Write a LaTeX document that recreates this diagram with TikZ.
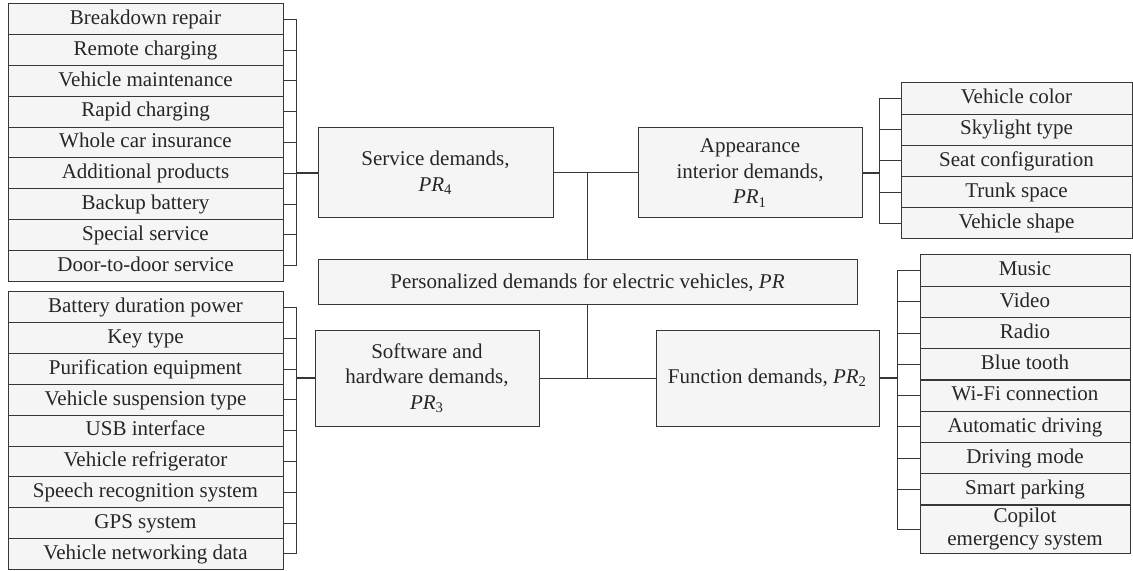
\documentclass[tikz,border=0pt]{standalone}
\usepackage{fontspec}
\setmainfont{Liberation Serif}
\definecolor{boxgray}{RGB}{245,245,245}
\definecolor{linegray}{RGB}{55,55,55}
\newcommand{\prsub}[1]{\textit{PR}\textsubscript{#1}}
\usepackage{tikz}
\usetikzlibrary{
  positioning,
  calc
}

\begin{document}
\begin{tikzpicture}[
  x=0.5pt, y=-0.5pt,
  cell/.style={
    draw=linegray, line width=0.5pt,
    fill=boxgray,
    inner sep=0pt, align=center,
    font=\fontsize{10.5}{11.5}\selectfont, text=black!85
  },
  row/.style={cell, text height=7.6pt, text depth=2.4pt},
  leftitem/.style={row, minimum width=137.5pt, minimum height=15.4pt},
  apitem/.style={row, minimum width=115.5pt, minimum height=15.6pt},
  fnitem/.style={row, minimum width=105pt, minimum height=15.6pt},
  demand/.style={
    cell, font=\fontsize{10.5}{12.8}\selectfont
  },
  link/.style={draw=linegray, line width=0.5pt},
  trunk/.style={draw=linegray, line width=0.9pt}
]
\useasboundingbox (0,0) rectangle (1133,571);

% central boxes
\node[demand, minimum width=117.5pt, minimum height=45pt] (svc) at (435.5,173) {Service demands,\\ \prsub{4}};
\node[demand, minimum width=112pt, minimum height=45pt] (app) at (750,173) {Appearance\\ interior demands,\\ \prsub{1}};
\node[demand, minimum width=269.5pt, minimum height=22.5pt] (pr) at (587.5,282.5) {Personalized demands for electric vehicles, \textit{PR}};
\node[demand, minimum width=112pt, minimum height=48pt] (sw) at (427,378) {Software and\\ hardware demands,\\ \prsub{3}};
\node[demand, minimum width=111.5pt, minimum height=48pt] (fn) at (767.5,378) {Function demands, \prsub{2}};

% service demands
\node[leftitem] (s1) at (145.5,19.4) {Breakdown repair};
\node[leftitem] (s2) at (145.5,50.2) {Remote charging};
\node[leftitem] (s3) at (145.5,81.0) {Vehicle maintenance};
\node[leftitem] (s4) at (145.5,111.8) {Rapid charging};
\node[leftitem] (s5) at (145.5,142.6) {Whole car insurance};
\node[leftitem] (s6) at (145.5,173.4) {Additional products};
\node[leftitem] (s7) at (145.5,204.2) {Backup battery};
\node[leftitem] (s8) at (145.5,235.0) {Special service};
\node[leftitem] (s9) at (145.5,265.8) {Door-to-door service};

% software and hardware demands
\node[leftitem] (h1) at (145.5,307.4) {Battery duration power};
\node[leftitem] (h2) at (145.5,338.2) {Key type};
\node[leftitem] (h3) at (145.5,369.0) {Purification equipment};
\node[leftitem] (h4) at (145.5,399.8) {Vehicle suspension type};
\node[leftitem] (h5) at (145.5,430.6) {USB interface};
\node[leftitem] (h6) at (145.5,461.4) {Vehicle refrigerator};
\node[leftitem] (h7) at (145.5,492.2) {Speech recognition system};
\node[leftitem] (h8) at (145.5,523.0) {GPS system};
\node[leftitem] (h9) at (145.5,553.8) {Vehicle networking data};

% appearance interior demands
\node[apitem] (a1) at (1016.5,98.6) {Vehicle color};
\node[apitem] (a2) at (1016.5,129.8) {Skylight type};
\node[apitem] (a3) at (1016.5,161.0) {Seat configuration};
\node[apitem] (a4) at (1016.5,192.2) {Trunk space};
\node[apitem] (a5) at (1016.5,223.4) {Vehicle shape};

% function demands
\node[fnitem] (f1) at (1025,270.6) {Music};
\node[fnitem] (f2) at (1025,301.85) {Video};
\node[fnitem] (f3) at (1025,333.1) {Radio};
\node[fnitem] (f4) at (1025,364.35) {Blue tooth};
\node[fnitem] (f5) at (1025,395.6) {Wi-Fi connection};
\node[fnitem] (f6) at (1025,426.85) {Automatic driving};
\node[fnitem] (f7) at (1025,458.1) {Driving mode};
\node[fnitem] (f8) at (1025,489.35) {Smart parking};
\node[cell, minimum width=105pt, minimum height=24pt, font=\fontsize{10.5}{11.2}\selectfont] (f9) at (1025,529) {Copilot\\ emergency system};

% bracket positions
\coordinate (sbr) at (296,0);
\coordinate (hbr) at (296,0);
\coordinate (abr) at (879,0);
\coordinate (fbr) at (897,0);

% trunk
\draw[link] (svc.east) -- (app.west);
\draw[link] (sw.east) -- (fn.west);
\draw[link] (pr.north) -- (pr.north |- svc.east);
\draw[link] (pr.south) -- (pr.south |- sw.east);

% service brackets
\draw[link] (s1.east) -- (s1.east -| sbr) (s2.east) -- (s2.east -| sbr)
  (s3.east) -- (s3.east -| sbr) (s4.east) -- (s4.east -| sbr)
  (s5.east) -- (s5.east -| sbr) (s6.east) -- (s6.east -| sbr)
  (s7.east) -- (s7.east -| sbr) (s8.east) -- (s8.east -| sbr)
  (s9.east) -- (s9.east -| sbr);
\draw[link] (s1.east -| sbr) -- (s9.east -| sbr);
\draw[trunk] (svc.west) -- (svc.west -| sbr);

% software and hardware brackets
\draw[link] (h1.east) -- (h1.east -| hbr) (h2.east) -- (h2.east -| hbr)
  (h3.east) -- (h3.east -| hbr) (h4.east) -- (h4.east -| hbr)
  (h5.east) -- (h5.east -| hbr) (h6.east) -- (h6.east -| hbr)
  (h7.east) -- (h7.east -| hbr) (h8.east) -- (h8.east -| hbr)
  (h9.east) -- (h9.east -| hbr);
\draw[link] (h1.east -| hbr) -- (h9.east -| hbr);
\draw[trunk] (sw.west) -- (sw.west -| hbr);

% appearance brackets
\draw[link] (a1.west) -- (a1.west -| abr) (a2.west) -- (a2.west -| abr)
  (a3.west) -- (a3.west -| abr) (a4.west) -- (a4.west -| abr)
  (a5.west) -- (a5.west -| abr);
\draw[link] (a1.west -| abr) -- (a5.west -| abr);
\draw[trunk] (app.east) -- (app.east -| abr);

% function brackets
\draw[link] (f1.west) -- (f1.west -| fbr) (f2.west) -- (f2.west -| fbr)
  (f3.west) -- (f3.west -| fbr) (f4.west) -- (f4.west -| fbr)
  (f5.west) -- (f5.west -| fbr) (f6.west) -- (f6.west -| fbr)
  (f7.west) -- (f7.west -| fbr) (f8.west) -- (f8.west -| fbr)
  (f9.west) -- (f9.west -| fbr);
\draw[link] (f1.west -| fbr) -- (f9.west -| fbr);
\draw[trunk] (fn.east) -- (fn.east -| fbr);
\end{tikzpicture}
\end{document}
